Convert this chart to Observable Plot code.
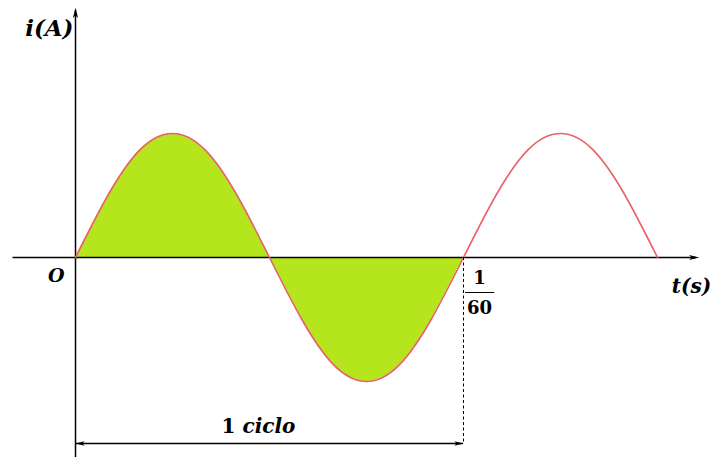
<!DOCTYPE html>
<html>
<head>
<meta charset="utf-8">
<script src="https://cdn.jsdelivr.net/npm/d3@7"></script>
<script src="https://cdn.jsdelivr.net/npm/@observablehq/plot@0.6"></script>
<style>
  html, body { margin: 0; padding: 0; background: #fff; }
  #chart svg { display: block; }
  #chart svg text, #chart svg tspan { font-family: "DejaVu Serif", "Liberation Serif", serif !important; }
</style>
</head>
<body>
<div id="chart"></div>
<script>
// Phase of the wave in degrees (one cycle = 360° = 1/60 s)
const phaseDeg = [0, 30, 60, 90, 120, 150, 180, 210, 240, 270, 300, 330, 360, 390, 420, 450, 480, 510, 540];
// Current (normalised amplitude)
const current = [0, 0.5, 0.87, 1, 0.87, 0.5, 0, -0.5, -0.87, -1, -0.87, -0.5, 0, 0.5, 0.87, 1, 0.87, 0.5, 0];
// Labels
const cycleEnd = 360;
const cycleLabelTop = "1";
const cycleLabelBottom = "60";
const cycleText = "1 ciclo";
const yAxisLabel = "i(A)";
const xAxisLabel = "t(s)";
const originLabel = "O";

const wave = phaseDeg.map((p, i) => ({phase: p, i: current[i]}));
const firstCycle = wave.filter(d => d.phase <= cycleEnd);

// axis extents (in data units)
const xMin = -58, xMax = 576;
const yMin = -1.62, yMax = 1.99;
const dimY = -1.5;

const arrowHead = {
  draw(ctx, size) {
    const l = Math.sqrt(size) * 1.0;
    ctx.moveTo(0, 0);
    ctx.lineTo(-2 * l, -0.5 * l);
    ctx.lineTo(-1.5 * l, 0);
    ctx.lineTo(-2 * l, 0.5 * l);
    ctx.closePath();
  }
};

const serif = "DejaVu Serif";
const green = "#b5e61d";
const red = "#e8616b";
const txt = {fontFamily: serif, fontWeight: "bold", fill: "#000"};

const plot = Plot.plot({
  width: 712,
  height: 457,
  margin: 0,
  style: {background: "#fff", overflow: "visible"},
  x: {domain: [0, 540], range: [75, 657], axis: null},
  y: {domain: [-1, 1], range: [381, 133], axis: null},
  marks: [
    // shaded first cycle
    Plot.areaY(firstCycle, {x: "phase", y: "i", curve: "natural", fill: green}),
    // x axis
    Plot.ruleY([0], {x1: xMin, x2: xMax, stroke: "#000", strokeWidth: 1.5}),
    Plot.dot([0], {x: () => xMax, y: 0, symbol: arrowHead, r: 2.9, fill: "#000", stroke: "none", dx: 3}),
    // y axis
    Plot.ruleX([0], {y1: yMin, y2: yMax, stroke: "#000", strokeWidth: 1.5}),
    Plot.dot([0], {x: 0, y: () => yMax, symbol: arrowHead, r: 2.9, fill: "#000", stroke: "none", rotate: -90, dy: -3}),
    // wave
    Plot.line(wave, {x: "phase", y: "i", curve: "natural", stroke: red, strokeWidth: 1.6}),
    // dashed end-of-cycle line
    Plot.ruleX([cycleEnd], {y1: 0, y2: dimY, stroke: "#000", strokeWidth: 1, strokeDasharray: "3,2.5"}),
    // dimension line
    Plot.ruleY([dimY], {x1: 0, x2: cycleEnd, stroke: "#000", strokeWidth: 1.3}),
    Plot.dot([0], {x: () => cycleEnd, y: dimY, symbol: arrowHead, r: 2.6, fill: "#000", stroke: "none"}),
    Plot.dot([0], {x: 0, y: dimY, symbol: arrowHead, r: 2.6, fill: "#000", stroke: "none", rotate: 180}),
    // labels
    Plot.text([yAxisLabel], {x: 0, y: () => yMax, text: d => d, textAnchor: "end", dx: -2, dy: 18,
      fontSize: 23, fontStyle: "italic", ...txt}),
    Plot.text([xAxisLabel], {x: () => xMax, y: 0, text: d => d, textAnchor: "end", dx: 15, dy: 29,
      fontSize: 20, fontStyle: "italic", ...txt}),
    Plot.text([originLabel], {x: 0, y: 0, text: d => d, textAnchor: "end", dx: -11, dy: 18,
      fontSize: 19, fontStyle: "italic", ...txt}),
    Plot.text([cycleLabelTop], {x: () => cycleEnd, y: 0, text: d => d, dx: 16, dy: 21,
      fontSize: 18, ...txt}),
    Plot.ruleY([0], {x1: () => cycleEnd, x2: () => cycleEnd + 27, dx: 2, dy: 35, stroke: "#000", strokeWidth: 1}),
    Plot.text([cycleLabelBottom], {x: () => cycleEnd, y: 0, text: d => d, dx: 16, dy: 51,
      fontSize: 18, ...txt}),
    Plot.text([cycleText], {x: () => cycleEnd / 2, y: dimY, text: d => d, dx: -11, dy: -17,
      fontSize: 20, ...txt})
  ]
});

// mixed upright / italic styling like the original
d3.select(plot).selectAll("text").each(function() {
  const t = this.textContent;
  if (t === cycleText) {
    const sel = d3.select(this);
    sel.text("");
    sel.append("tspan").text("1 ");
    sel.append("tspan").attr("font-style", "italic").text("ciclo");
  }
});

document.getElementById("chart").appendChild(plot);
</script>
</body>
</html>
